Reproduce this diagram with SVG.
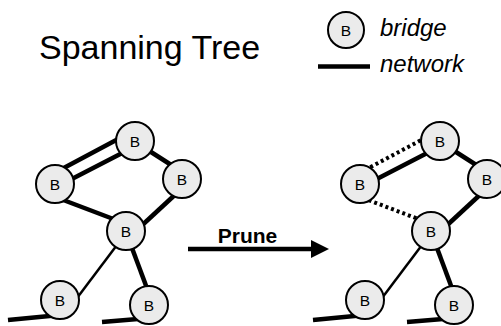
<svg xmlns="http://www.w3.org/2000/svg" width="501" height="326" viewBox="0 0 501 326">
<defs>
<style>
.node circle{fill:#ebebeb;stroke:#000;stroke-width:2}
.node text{font-family:"Liberation Sans",Arial,sans-serif;font-size:15.5px;text-anchor:middle;fill:#000}
.thick{stroke:#000;stroke-width:4.5;fill:none}
.thin{stroke:#000;stroke-width:2.5;fill:none}
.dot{stroke:#000;stroke-width:4;fill:none;stroke-dasharray:3 3}
.title{font-family:"Liberation Sans",Arial,sans-serif;font-size:34px;fill:#000}
.legend{font-family:"Liberation Sans",Arial,sans-serif;font-size:24px;font-style:italic;fill:#000}
.lbl{font-family:"Liberation Sans",Arial,sans-serif;font-size:21px;font-weight:bold;fill:#000;text-anchor:middle}
</style>
</defs>
<rect width="501" height="326" fill="#fff"/>
<text class="title" x="39" y="59">Spanning Tree</text>
<g id="legend">
<g class="node" id="legend-bridge"><circle cx="346" cy="30" r="18"/><text x="346" y="36">B</text></g>
<text class="legend" x="380" y="36">bridge</text>
<line class="thick" x1="318" y1="66.5" x2="370" y2="66.5"/>
<text class="legend" x="380" y="72">network</text>
</g>
<g id="connectors">
<!-- left graph -->
<line class="thick" x1="60" y1="170" x2="120" y2="138"/>
<line class="thick" x1="68" y1="181" x2="128" y2="150"/>
<line class="thick" x1="140" y1="145" x2="176" y2="168"/>
<line class="thick" x1="58" y1="198" x2="116" y2="220"/>
<line class="thick" x1="178" y1="192" x2="138" y2="229"/>
<line class="thin" x1="120" y1="241" x2="74" y2="302"/>
<line class="thick" x1="129" y1="240" x2="148" y2="291"/>
<line class="thick" x1="8" y1="320" x2="60" y2="315"/>
<line class="thick" x1="102" y1="322" x2="150" y2="318"/>
<!-- prune arrow -->
<line class="thick" x1="188" y1="249" x2="313" y2="249"/>
<polygon points="311,240 329,249 311,258" fill="#000"/>
<!-- right graph -->
<line class="dot" x1="365" y1="170" x2="425" y2="138"/>
<line class="thick" x1="373" y1="181" x2="433" y2="150"/>
<line class="thick" x1="445" y1="145" x2="481" y2="168"/>
<line class="dot" x1="363" y1="198" x2="421" y2="220"/>
<line class="thick" x1="483" y1="192" x2="443" y2="229"/>
<line class="thin" x1="425" y1="241" x2="379" y2="302"/>
<line class="thick" x1="434" y1="240" x2="453" y2="291"/>
<line class="thick" x1="313" y1="320" x2="365" y2="315"/>
<line class="thick" x1="407" y1="322" x2="455" y2="318"/>
</g>
<text class="lbl" x="247.5" y="242.5">Prune</text>
<g class="node" id="l-top"><circle cx="135" cy="141" r="19"/><text x="135" y="147">B</text></g>
<g class="node" id="l-left"><circle cx="55" cy="184" r="19"/><text x="55" y="190">B</text></g>
<g class="node" id="l-right"><circle cx="182" cy="179" r="19"/><text x="182" y="185">B</text></g>
<g class="node" id="l-mid"><circle cx="126" cy="231" r="19"/><text x="126" y="237">B</text></g>
<g class="node" id="l-bl"><circle cx="60" cy="300" r="19"/><text x="60" y="306">B</text></g>
<g class="node" id="l-br"><circle cx="149" cy="305" r="19"/><text x="149" y="311">B</text></g>
<g class="node" id="r-top"><circle cx="440" cy="141" r="19"/><text x="440" y="147">B</text></g>
<g class="node" id="r-left"><circle cx="360" cy="184" r="19"/><text x="360" y="190">B</text></g>
<g class="node" id="r-right"><circle cx="487" cy="179" r="19"/><text x="487" y="185">B</text></g>
<g class="node" id="r-mid"><circle cx="431" cy="231" r="19"/><text x="431" y="237">B</text></g>
<g class="node" id="r-bl"><circle cx="365" cy="300" r="19"/><text x="365" y="306">B</text></g>
<g class="node" id="r-br"><circle cx="454" cy="305" r="19"/><text x="454" y="311">B</text></g>
</svg>
